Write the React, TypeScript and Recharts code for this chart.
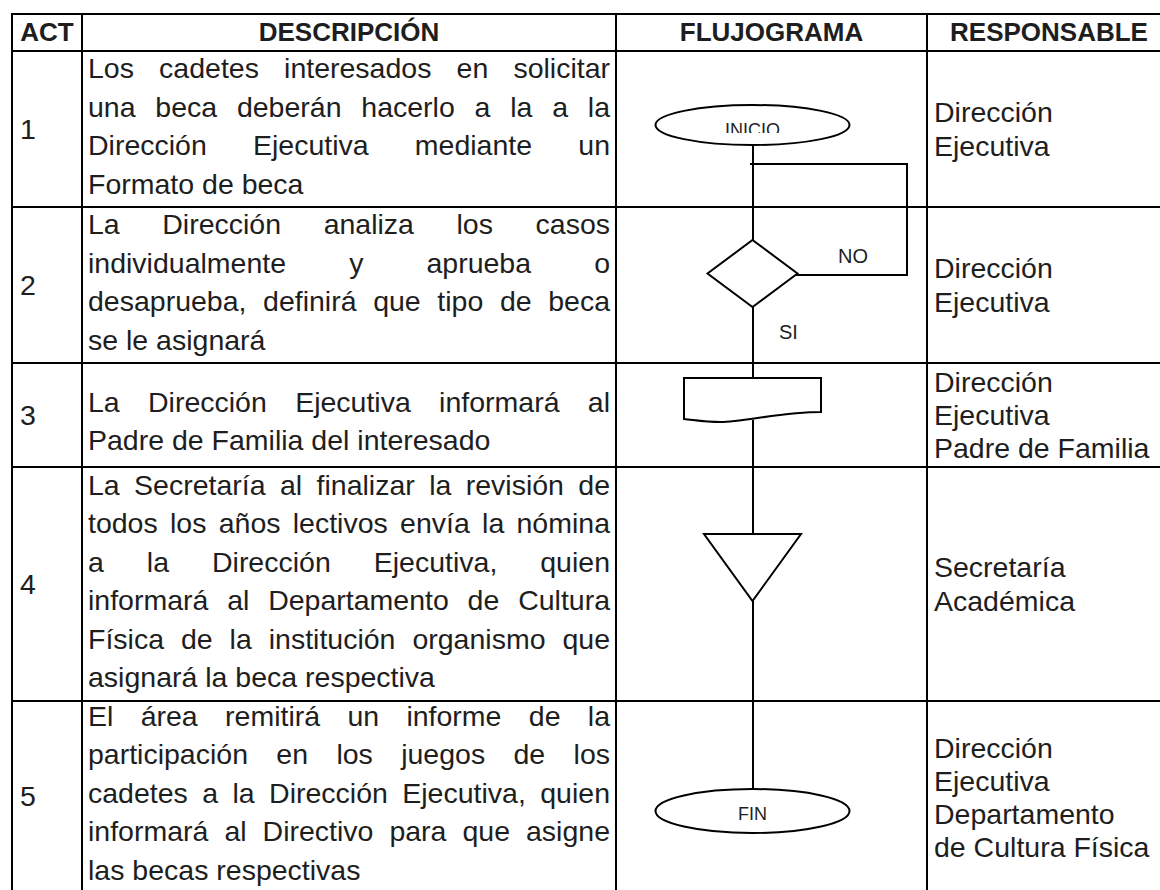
import React from 'react';
import { ComposedChart, XAxis, YAxis, Scatter, ReferenceLine } from 'recharts';

// ---------------- data ----------------
const headers = ['ACT', 'DESCRIPCIÓN', 'FLUJOGRAMA', 'RESPONSABLE'];
const acts = ['1', '2', '3', '4', '5'];
const descriptions: string[][] = [
  ['Los cadetes interesados en solicitar', 'una beca deberán hacerlo a la a la', 'Dirección Ejecutiva mediante un', 'Formato de beca'],
  ['La Dirección analiza los casos', 'individualmente y aprueba o', 'desaprueba, definirá que tipo de beca', 'se le asignará'],
  ['La Dirección Ejecutiva informará al', 'Padre de Familia del interesado'],
  [
    'La Secretaría al finalizar la revisión de',
    'todos los años lectivos envía la nómina',
    'a la Dirección Ejecutiva, quien',
    'informará al Departamento de Cultura',
    'Física de la institución organismo que',
    'asignará la beca respectiva',
  ],
  [
    'El área remitirá un informe de la',
    'participación en los juegos de los',
    'cadetes a la Dirección Ejecutiva, quien',
    'informará al Directivo para que asigne',
    'las becas respectivas',
  ],
];
const responsables: string[][] = [
  ['Dirección', 'Ejecutiva'],
  ['Dirección', 'Ejecutiva'],
  ['Dirección', 'Ejecutiva', 'Padre de Familia'],
  ['Secretaría', 'Académica'],
  ['Dirección', 'Ejecutiva', 'Departamento', 'de Cultura Física'],
];
const flowSymbols = ['terminal', 'decision', 'document', 'merge', 'terminal'];
const flowLabels = ['INICIO', '', '', '', 'FIN'];
const branchLabels = ['NO', 'SI'];

// ---------------- layout ----------------
const W = 1160;
const H = 890;
const FONT = '"Liberation Sans", Arial, Helvetica, sans-serif';
const TEXT_COLOR = '#1e1e1e';
const colEdges = [12, 82, 616, 927, 1171];
const rowEdges = [14, 51, 207, 363, 467, 701, 890];
const descNudge = [0, 0, 9, 0, 0];
const respNudge = [0, 0, 0, 0, 2];
const FLOW_X = 752.5;

let ctx: CanvasRenderingContext2D | null = null;
function measure(text: string, font: string): number {
  if (!ctx) ctx = document.createElement('canvas').getContext('2d');
  if (!ctx) return text.length * 14;
  ctx.font = font;
  return ctx.measureText(text).width;
}

type TextItem = {
  x: number;
  y: number;
  str: string;
  size: number;
  weight: number;
  anchor: 'start' | 'middle' | 'end';
  justifyTo?: number;
  clipBottom?: number;
};

const textData: TextItem[] = [];
headers.forEach((h, i) => {
  textData.push({ x: (colEdges[i] + colEdges[i + 1]) / 2, y: 41, str: h, size: 26, weight: 700, anchor: 'middle' });
});
acts.forEach((a, r) => {
  const c = (rowEdges[r + 1] + rowEdges[r + 2]) / 2;
  textData.push({ x: 20, y: c + 10, str: a, size: 28.5, weight: 400, anchor: 'start' });
});
descriptions.forEach((lines, r) => {
  const c = (rowEdges[r + 1] + rowEdges[r + 2]) / 2;
  const n = lines.length;
  lines.forEach((ln, i) => {
    textData.push({
      x: 88,
      y: c + (i - (n - 1) / 2) * 38.5 + 7 + descNudge[r],
      str: ln,
      size: 28.5,
      weight: 400,
      anchor: 'start',
      justifyTo: i < n - 1 ? 610 : undefined,
    });
  });
});
responsables.forEach((lines, r) => {
  const c = (rowEdges[r + 1] + rowEdges[r + 2]) / 2;
  const n = lines.length;
  lines.forEach((ln, i) => {
    textData.push({
      x: 934,
      y: c + (i - (n - 1) / 2) * 33.3 + 10 + respNudge[r],
      str: ln,
      size: 28.5,
      weight: 400,
      anchor: 'start',
    });
  });
});
// flow labels
textData.push({ x: FLOW_X, y: 136, str: flowLabels[0], size: 18, weight: 400, anchor: 'middle', clipBottom: 133 });
textData.push({ x: FLOW_X, y: 820, str: flowLabels[4], size: 18, weight: 400, anchor: 'middle' });
textData.push({ x: 838, y: 263, str: branchLabels[0], size: 20, weight: 400, anchor: 'start' });
textData.push({ x: 779, y: 339, str: branchLabels[1], size: 20, weight: 400, anchor: 'start' });

type FlowItem = { x: number; y: number; kind: string; a: number; b: number };
const flowGeom = [
  { y: 125, a: 97, b: 20 },
  { y: 273.5, a: 45, b: 33.5 },
  { y: 399, a: 68.5, b: 21 },
  { y: 567.5, a: 48.5, b: 33.5 },
  { y: 811, a: 97, b: 22 },
];
const flowData: FlowItem[] = flowSymbols.map((k, i) => ({ x: FLOW_X, y: flowGeom[i].y, kind: k, a: flowGeom[i].a, b: flowGeom[i].b }));

type Seg = { x1: number; y1: number; x2: number; y2: number; w: number };
const segs: Seg[] = [];
rowEdges.slice(0, 6).forEach((y) => segs.push({ x1: colEdges[0] - 1, y1: y, x2: W, y2: y, w: 2 }));
colEdges.slice(0, 4).forEach((x) => segs.push({ x1: x, y1: rowEdges[0] - 1, x2: x, y2: H, w: 2 }));
// connectors
segs.push({ x1: 753, y1: 145, x2: 753, y2: 240, w: 2 });
segs.push({ x1: 750, y1: 164, x2: 908, y2: 164, w: 2 });
segs.push({ x1: 907, y1: 163, x2: 907, y2: 276, w: 2 });
segs.push({ x1: 796, y1: 275, x2: 908, y2: 275, w: 2 });
segs.push({ x1: 753, y1: 307, x2: 753, y2: 378, w: 2 });
segs.push({ x1: 753, y1: 420, x2: 753, y2: 534, w: 2 });
segs.push({ x1: 753, y1: 601, x2: 753, y2: 789, w: 2 });

function TextShape(props: any) {
  const { cx, cy, payload } = props;
  if (cx == null || cy == null || !payload) return null;
  const p = payload as TextItem;
  const font = `${p.weight} ${p.size}px ${FONT}`;
  const common = {
    y: cy,
    fontFamily: FONT,
    fontSize: p.size,
    fontWeight: p.weight,
    fill: TEXT_COLOR,
  };
  if (p.justifyTo != null) {
    const words = p.str.split(' ');
    const widths = words.map((w) => measure(w, font));
    const total = widths.reduce((s, v) => s + v, 0);
    const gap = words.length > 1 ? (p.justifyTo - p.x - total) / (words.length - 1) : 0;
    let x = cx;
    return (
      <text {...common}>
        {words.map((w, i) => {
          const el = (
            <tspan key={i} x={x}>
              {w}
            </tspan>
          );
          x += widths[i] + gap;
          return el;
        })}
      </text>
    );
  }
  if (p.clipBottom != null) {
    const id = 'clip-' + p.str;
    return (
      <g>
        <defs>
          <clipPath id={id}>
            <rect x={cx - 80} y={cy - 40} width={160} height={40 - (p.y - p.clipBottom)} />
          </clipPath>
        </defs>
        <text {...common} x={cx} textAnchor={p.anchor} clipPath={`url(#${id})`}>
          {p.str}
        </text>
      </g>
    );
  }
  return (
    <text {...common} x={cx} textAnchor={p.anchor}>
      {p.str}
    </text>
  );
}

function FlowShape(props: any) {
  const { cx, cy, payload } = props;
  if (cx == null || cy == null || !payload) return null;
  const p = payload as FlowItem;
  const st = { fill: '#fff', stroke: '#000', strokeWidth: 2 };
  if (p.kind === 'terminal') {
    return <ellipse cx={cx} cy={cy} rx={p.a} ry={p.b} {...st} />;
  }
  if (p.kind === 'decision') {
    const pts = `${cx},${cy - p.b} ${cx + p.a},${cy} ${cx},${cy + p.b} ${cx - p.a},${cy}`;
    return <polygon points={pts} {...st} strokeLinejoin="miter" />;
  }
  if (p.kind === 'document') {
    const top = cy - p.b;
    const l = cx - p.a;
    const r = cx + p.a;
    const d = `M${l},${top} L${r},${top} L${r},${top + 34} C${cx + 30},${top + 34} ${cx - 10},${top + 44} ${cx - 32},${top + 44} C${cx - 48},${top + 44} ${cx - 58},${top + 42} ${l},${top + 41} Z`;
    return <path d={d} {...st} />;
  }
  if (p.kind === 'merge') {
    const pts = `${cx - p.a},${cy - p.b} ${cx + p.a},${cy - p.b} ${cx},${cy + p.b}`;
    return <polygon points={pts} {...st} />;
  }
  return null;
}

export default function App() {
  return (
    <div style={{ position: 'absolute', left: 0, top: 0, width: W, height: H, background: '#fff' }}>
      <ComposedChart width={W} height={H} margin={{ top: 0, right: 0, bottom: 0, left: 0 }}>
        <XAxis type="number" dataKey="x" domain={[0, W]} hide allowDataOverflow />
        <YAxis type="number" dataKey="y" domain={[0, H]} hide reversed allowDataOverflow />
        {segs.map((s, i) => (
          <ReferenceLine
            key={i}
            segment={[
              { x: s.x1, y: s.y1 },
              { x: s.x2, y: s.y2 },
            ]}
            stroke="#000"
            strokeWidth={s.w}
            ifOverflow="visible"
          />
        ))}
        <Scatter data={flowData} shape={FlowShape} isAnimationActive={false} />
        <Scatter data={textData} shape={TextShape} isAnimationActive={false} />
      </ComposedChart>
    </div>
  );
}
